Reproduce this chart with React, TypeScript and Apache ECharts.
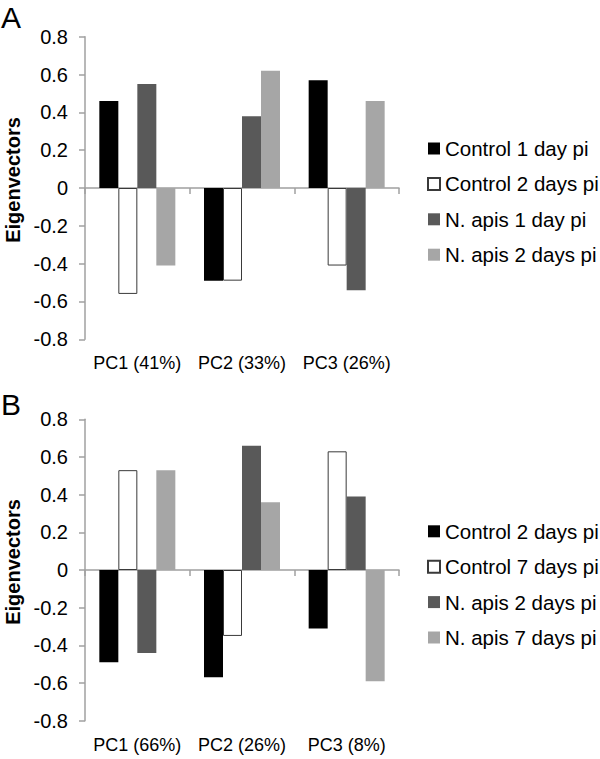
import React, { useEffect, useRef } from "react";
import * as echarts from "echarts";

const categoriesA = ["PC1 (41%)", "PC2 (33%)", "PC3 (26%)"];
const seriesNamesA = ["Control 1 day pi", "Control 2 days pi", "N. apis 1 day pi", "N. apis 2 days pi"];
const control1dA = [0.46, -0.49, 0.57];
const control2dA = [-0.56, -0.49, -0.41];
const napis1dA = [0.55, 0.38, -0.54];
const napis2dA = [-0.41, 0.62, 0.46];

const categoriesB = ["PC1 (66%)", "PC2 (26%)", "PC3 (8%)"];
const seriesNamesB = ["Control 2 days pi", "Control 7 days pi", "N. apis 2 days pi", "N. apis 7 days pi"];
const control2dB = [-0.49, -0.57, -0.31];
const control7dB = [0.53, -0.35, 0.63];
const napis2dB = [-0.44, 0.66, 0.39];
const napis7dB = [0.53, 0.36, -0.59];

const yTicks = { min: -0.8, max: 0.8, interval: 0.2 };

const FONT = "'Liberation Sans', Arial, Helvetica, sans-serif";
const barStyles = [
  { color: "#000000" },
  { color: "#ffffff", borderColor: "#3a3a3a", borderWidth: 1 },
  { color: "#595959" },
  { color: "#a6a6a6" },
];

function buildOption(letter: string, letterTop: number, cats: string[], names: string[], values: number[][], gridTop: number, gridHeight: number, legendTop: number) {
  const axisGray = "#a0a0a0";
  return {
    animation: false,
    backgroundColor: "#ffffff",
    textStyle: { fontFamily: FONT },
    grid: { left: 85, top: gridTop, width: 314, height: gridHeight, containLabel: false },
    legend: {
      orient: "vertical",
      left: 427,
      top: legendTop,
      padding: 0,
      itemWidth: 12,
      itemHeight: 12,
      itemGap: 13.4,
      icon: "rect",
      selectedMode: false,
      data: names,
      textStyle: { fontFamily: FONT, fontSize: 20.5, color: "#000", lineHeight: 22, padding: [0, 0, 0, 0] },
    },
    xAxis: [
      {
        type: "category",
        data: cats,
        axisLine: { onZero: true, lineStyle: { color: axisGray, width: 1.5 } },
        axisTick: { show: true, length: 6, lineStyle: { color: axisGray, width: 1.5 } },
        axisLabel: { show: false },
        splitLine: { show: false },
      },
      {
        type: "category",
        data: cats,
        position: "bottom",
        axisLine: { show: false, onZero: false },
        axisTick: { show: false },
        axisLabel: { show: true, interval: 0, margin: 15, fontSize: 18, color: "#000", fontFamily: FONT },
        splitLine: { show: false },
      },
    ],
    yAxis: {
      type: "value",
      min: yTicks.min,
      max: yTicks.max,
      interval: yTicks.interval,
      axisLine: { show: true, lineStyle: { color: axisGray, width: 1.5 } },
      axisTick: { show: true, length: 6, lineStyle: { color: axisGray, width: 1.5 } },
      splitLine: { show: false },
      axisLabel: {
        margin: 17,
        fontSize: 20,
        color: "#000",
        fontFamily: FONT,
        formatter: (v: number) => (Math.abs(v) < 1e-9 ? "0" : String(Math.round(v * 10) / 10)),
      },
    },
    graphic: [
      {
        type: "text",
        left: 1,
        top: letterTop,
        style: { text: letter, fontSize: 30, fontFamily: FONT, fill: "#000" },
      },
      {
        type: "text",
        x: 13,
        y: gridTop + gridHeight / 2 - 8,
        rotation: Math.PI / 2,
        style: {
          text: "Eigenvectors",
          fontSize: 20,
          fontWeight: "bold",
          fontFamily: FONT,
          fill: "#000",
          align: "center",
          verticalAlign: "middle",
        },
      },
    ],
    series: names.map((n, i) => ({
      type: "bar",
      name: n,
      xAxisIndex: 0,
      yAxisIndex: 0,
      data: values[i],
      barWidth: 19,
      barGap: "0%",
      itemStyle: barStyles[i],
      emphasis: { disabled: true },
    })),
  };
}

function Panel(props: { top: number; height: number; option: any }) {
  const ref = useRef<HTMLDivElement>(null);
  useEffect(() => {
    if (!ref.current) return;
    const chart = echarts.init(ref.current, undefined, { renderer: "svg" });
    chart.setOption(props.option);
    return () => chart.dispose();
  }, []);
  return (
    <div
      ref={ref}
      style={{ position: "absolute", left: 0, top: props.top, width: 600, height: props.height }}
    />
  );
}

export default function App() {
  const optA = buildOption("A", 2, categoriesA, seriesNamesA, [control1dA, control2dA, napis1dA, napis2dA], 36.7, 302.6, 137.5);
  const optB = buildOption("B", 9, categoriesB, seriesNamesB, [control2dB, control7dB, napis2dB, napis7dB], 39.3, 301.4, 140.3);
  return (
    <div style={{ position: "absolute", left: 0, top: 0, width: 600, height: 759, background: "#fff" }}>
      <Panel top={0} height={380} option={optA} />
      <Panel top={380} height={379} option={optB} />
    </div>
  );
}
